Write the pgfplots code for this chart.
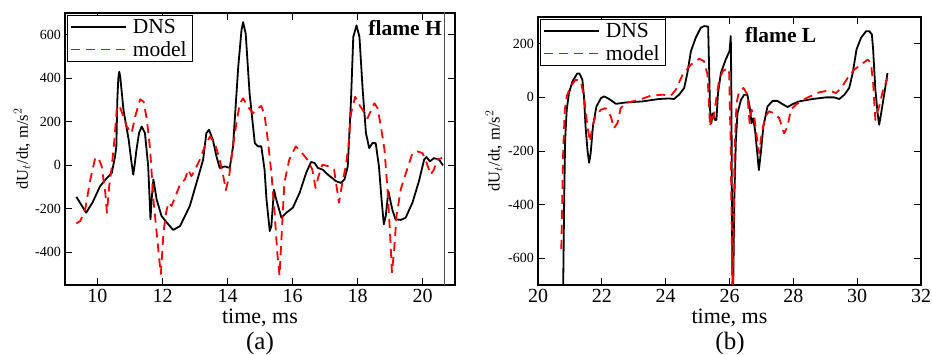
\documentclass[border=0pt]{standalone}
\usepackage{fontspec}
\setmainfont{Liberation Serif}
\usepackage{pgfplots}
\pgfplotsset{compat=1.18}
\definecolor{vline}{RGB}{80,80,80}
\pgfplotsset{
  myaxis/.style={
    scale only axis, anchor=south west,
    axis line style={line width=1.6pt},
    tick align=inside, xtick pos=both, ytick pos=both,
    major tick length=7pt,
    every tick/.style={black, line width=0.8pt},
    /pgf/number format/assume math mode=true,
    xticklabel style={font=\fontsize{20}{20}\selectfont, anchor=base, yshift=-17.5pt, inner sep=0pt},
    yticklabel style={font=\fontsize{14}{14}\selectfont, anchor=east, inner sep=0pt, xshift=-4pt},
    xlabel style={font=\fontsize{22}{22}\selectfont, anchor=base, inner sep=0pt},
    ylabel style={font=\fontsize{16.5}{16.5}\selectfont, anchor=center, inner sep=0pt},
    xlabel={time, ms},
    ylabel={dU$_t$/dt, m/s$^2$},
    legend style={at={(axis description cs:0,1)}, anchor=north west, xshift=2pt, yshift=-2pt,
      draw=black, line width=1pt, font=\fontsize{21.5}{21.5}\selectfont,
      inner xsep=2.5pt, inner ysep=1pt, row sep=0pt, column sep=3pt,
      nodes={inner sep=3pt}, cells={anchor=west}},
    legend image code/.code={\draw[##1] (0pt,0pt) -- (55pt,0pt);},
  },
  dns/.style={black, line width=1.8pt, line join=round},
  mdl/.style={red, line width=1.8pt, dash pattern=on 9pt off 6pt, line join=round},
}
\begin{document}
\begin{tikzpicture}
\path[use as bounding box] (0,0) rectangle (932pt,355pt);
\begin{axis}[myaxis, at={(65pt,70pt)}, width=390pt, height=272pt,
  xmin=9, xmax=21, ymin=-550, ymax=700,
  xtick={10,12,...,20}, ytick={-400,-200,...,600},
  xlabel style={at={(axis description cs:0.5,-0.14)}},
  ylabel style={at={(axis description cs:-0.110,0.5)}}]
\addplot[dns] coordinates {(9.35,-145) (9.65,-218) (9.85,-170) (10.08,-96) (10.29,-58) (10.44,-35) (10.54,41) (10.58,87) (10.61,300) (10.64,400) (10.67,430) (10.7,407) (10.8,254) (10.96,117) (11.04,20) (11.1,-43) (11.15,10) (11.2,72) (11.28,150) (11.36,178) (11.46,148) (11.56,-5) (11.63,-248) (11.67,-150) (11.72,-65) (11.82,-157) (11.97,-233) (12.13,-263) (12.33,-297) (12.54,-279) (12.84,-187) (13.15,-27) (13.25,26) (13.35,148) (13.43,163) (13.55,117) (13.66,41) (13.76,-12) (13.92,-5) (14.07,-12) (14.17,87) (14.33,452) (14.43,620) (14.48,658) (14.56,605) (14.68,330) (14.84,102) (14.94,87) (15.04,87) (15.14,-20) (15.2,-157) (15.3,-302) (15.35,-279) (15.43,-112) (15.5,-157) (15.66,-241) (15.81,-218) (16.01,-195) (16.22,-126) (16.42,-35) (16.57,15) (16.68,11) (16.78,-12) (16.93,-20) (17.09,-43) (17.34,-73) (17.49,-81) (17.6,-65) (17.7,-5) (17.8,300) (17.87,590) (17.97,643) (18.06,590) (18.16,346) (18.26,148) (18.36,79) (18.46,102) (18.56,102) (18.66,-5) (18.74,-157) (18.81,-271) (18.87,-233) (18.95,-119) (19.07,-203) (19.17,-248) (19.33,-251) (19.48,-241) (19.69,-172) (19.89,-73) (20.05,26) (20.12,38) (20.23,18) (20.35,33) (20.51,26) (20.63,0)};
\addlegendentry{DNS}
\addplot[mdl] coordinates {(9.35,-267) (9.47,-256) (9.62,-203) (9.78,-65) (9.93,34) (10.03,34) (10.13,-5) (10.24,-126) (10.29,-218) (10.36,-96) (10.44,-5) (10.52,117) (10.59,254) (10.67,277) (10.78,231) (10.9,178) (11.05,148) (11.16,224) (11.31,303) (11.42,292) (11.52,209) (11.62,72) (11.72,-157) (11.82,-309) (11.9,-431) (11.95,-500) (12.03,-309) (12.11,-218) (12.18,-172) (12.28,-187) (12.38,-149) (12.54,-88) (12.69,-65) (12.79,-20) (12.89,-50) (13.0,-20) (13.15,26) (13.3,87) (13.46,132) (13.61,102) (13.76,26) (13.87,-50) (13.95,-114) (14.05,-50) (14.17,87) (14.29,209) (14.38,285) (14.48,308) (14.63,270) (14.78,239) (14.94,262) (15.04,273) (15.14,231) (15.24,117) (15.35,-35) (15.45,-218) (15.53,-400) (15.6,-507) (15.67,-309) (15.75,-81) (15.9,26) (16.1,87) (16.25,64) (16.46,26) (16.61,-20) (16.71,-104) (16.8,-50) (16.92,3) (17.12,-5) (17.28,-20) (17.43,-172) (17.54,-73) (17.64,-5) (17.72,87) (17.8,239) (17.93,315) (18.06,277) (18.16,254) (18.31,216) (18.42,254) (18.52,285) (18.62,262) (18.72,178) (18.83,72) (18.93,-126) (19.0,-309) (19.06,-492) (19.13,-385) (19.2,-233) (19.33,-111) (19.49,-35) (19.69,56) (19.84,64) (20.0,56) (20.13,11) (20.25,-43) (20.35,-20) (20.45,26) (20.6,34)};
\addlegendentry{model}
\addplot[vline, line width=0.9pt, forget plot] coordinates {(20.67,-700) (20.67,800)};
\node[anchor=base east, font=\bfseries\fontsize{21.5}{21.5}\selectfont, inner sep=0pt, xshift=-13pt, yshift=-23pt] at (rel axis cs:1,1) {flame H};
\end{axis}
\node[anchor=base, font=\fontsize{25}{25}\selectfont, inner sep=0pt] at (260pt,5pt) {(a)};
\begin{axis}[myaxis, at={(538pt,70pt)}, width=383pt, height=268pt,
  xmin=20, xmax=32, ymin=-700, ymax=300,
  xtick={20,22,...,32}, ytick={-600,-400,...,200},
  xlabel style={at={(axis description cs:0.5,-0.142)}},
  ylabel style={at={(axis description cs:-0.115,0.5)}}]
\addplot[dns] coordinates {(20.78,-800) (20.82,-384) (20.85,-159) (20.9,-46) (20.97,16) (21.08,60) (21.23,89) (21.3,89) (21.39,66) (21.44,4) (21.49,-109) (21.55,-196) (21.6,-244) (21.65,-209) (21.72,-109) (21.83,-34) (21.97,-3) (22.07,4) (22.23,-6) (22.44,-24) (22.75,-19) (23.27,-15) (23.79,-6) (24.1,-4) (24.26,-6) (24.42,10) (24.58,35) (24.68,91) (24.79,172) (24.94,222) (25.1,260) (25.21,266) (25.33,264) (25.36,116) (25.39,-46) (25.43,-96) (25.48,-59) (25.54,-84) (25.59,-84) (25.64,16) (25.73,91) (25.88,141) (26.0,172) (26.04,229) (26.06,0) (26.08,-509) (26.1,-800) (26.12,-671) (26.15,-384) (26.2,-159) (26.25,-59) (26.36,-9) (26.46,10) (26.56,10) (26.63,-34) (26.69,-96) (26.74,-78) (26.8,-121) (26.87,-209) (26.92,-271) (26.98,-209) (27.06,-109) (27.19,-34) (27.35,-13) (27.5,-13) (27.66,-25) (27.82,-36) (27.98,-25) (28.18,-15) (28.6,-6) (29.02,0) (29.28,0) (29.44,-6) (29.6,10) (29.75,35) (29.86,91) (29.98,179) (30.12,222) (30.28,247) (30.38,247) (30.46,235) (30.5,179) (30.57,29) (30.64,-59) (30.69,-102) (30.77,-46) (30.87,29) (30.95,91)};
\addlegendentry{DNS}
\addplot[mdl] coordinates {(20.73,-565) (20.76,-384) (20.79,-196) (20.84,-46) (20.9,4) (21.02,41) (21.18,66) (21.34,60) (21.44,4) (21.55,-109) (21.63,-165) (21.7,-109) (21.8,-71) (21.97,-46) (22.12,-40) (22.28,-71) (22.38,-115) (22.49,-96) (22.59,-40) (22.75,-21) (23.17,-9) (23.53,6) (23.9,10) (24.16,6) (24.32,29) (24.53,85) (24.79,122) (25.05,144) (25.2,135) (25.31,85) (25.39,-109) (25.45,-59) (25.5,-78) (25.55,-34) (25.66,54) (25.78,97) (25.94,110) (25.99,91) (26.04,-200) (26.1,-800) (26.13,-509) (26.16,-196) (26.22,-21) (26.3,22) (26.44,35) (26.56,10) (26.63,-96) (26.69,-46) (26.77,-65) (26.84,-134) (26.93,-209) (27.01,-134) (27.12,-71) (27.24,-52) (27.4,-59) (27.56,-78) (27.71,-134) (27.82,-109) (27.92,-46) (28.08,-27) (28.4,-3) (28.81,19) (29.13,26) (29.34,16) (29.5,35) (29.7,72) (29.91,104) (30.12,122) (30.33,141) (30.43,129) (30.5,54) (30.57,-84) (30.62,-59) (30.69,-34) (30.8,22) (30.95,72)};
\addlegendentry{model}
\node[anchor=base west, font=\bfseries\fontsize{21.5}{21.5}\selectfont, inner sep=0pt, xshift=207pt, yshift=-26pt] at (rel axis cs:0,1) {flame L};
\end{axis}
\node[anchor=base, font=\fontsize{25}{25}\selectfont, inner sep=0pt] at (730pt,5pt) {(b)};
\end{tikzpicture}
\end{document}
